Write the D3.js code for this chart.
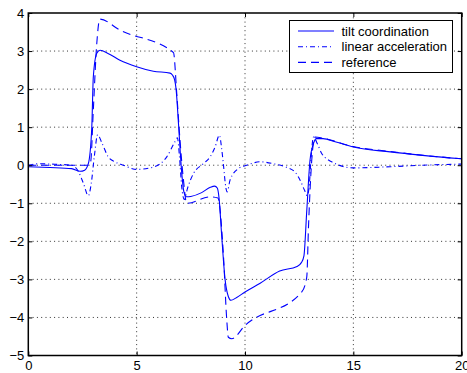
<!DOCTYPE html>
<html>
<head>
<meta charset="utf-8">
<script src="https://cdn.jsdelivr.net/npm/d3@7"></script>
<style>
  body { margin: 0; background: #fff; }
  svg { display: block; font-family: "Liberation Sans", Arial, sans-serif; }
</style>
</head>
<body>
<svg id="chart" width="467" height="373"></svg>
<script>
// tick values
const xTicks = [0, 5, 10, 15, 20];
const yTicks = [-5, -4, -3, -2, -1, 0, 1, 2, 3, 4];

// tilt coordination (solid)
const tiltT = [0, 1, 2, 2.39, 2.6, 2.77, 2.93, 3.0, 3.16, 3.31, 3.7, 4.23, 5.0, 5.77, 6.54, 6.65, 6.75, 6.82, 6.93, 7.08, 7.18, 7.3, 7.5, 8.0, 8.4, 8.6, 8.72, 8.8, 8.93, 9.08, 9.23, 9.35, 9.6, 10.0, 10.7, 11.6, 12.4, 12.6, 12.72, 12.85, 13.0, 13.16, 13.3, 13.6, 14.2, 15, 16.7, 18.2, 20];
const tiltY = [-0.04, -0.06, -0.09, -0.16, -0.13, 0.04, 1.0, 2.32, 2.94, 3.02, 2.93, 2.76, 2.59, 2.47, 2.42, 2.37, 2.25, 2.0, 1.1, -0.2, -0.7, -0.83, -0.82, -0.72, -0.58, -0.55, -0.6, -0.85, -1.9, -3.0, -3.45, -3.55, -3.48, -3.33, -3.1, -2.78, -2.66, -2.56, -2.38, -1.2, 0.13, 0.57, 0.7, 0.7, 0.61, 0.48, 0.35, 0.26, 0.17];

// linear acceleration (dash-dot)
const accT = [0, 0.5, 1.0, 2.0, 2.3, 2.54, 2.77, 2.9, 3.05, 3.2, 3.4, 3.69, 4.0, 4.39, 5.0, 5.77, 6.39, 6.77, 6.88, 6.98, 7.08, 7.2, 7.35, 7.62, 8.08, 8.39, 8.62, 8.82, 8.92, 9.0, 9.12, 9.18, 9.31, 9.69, 10.08, 10.7, 11.3, 11.85, 12.31, 12.55, 12.75, 12.87, 12.97, 13.05, 13.16, 13.35, 13.54, 14.0, 15, 16.7, 18.2, 20];
const accY = [0, 0.04, 0.03, 0.0, -0.15, -0.47, -0.8, -0.5, 0.25, 0.8, 0.58, 0.22, 0.09, 0.0, -0.11, -0.05, 0.22, 0.62, 0.72, 0.2, -0.57, -0.9, -0.6, -0.22, 0.04, 0.22, 0.48, 0.79, 0.45, 0.04, -0.6, -0.7, -0.39, -0.09, 0.0, 0.09, 0.04, -0.04, -0.18, -0.4, -0.66, -0.8, -0.5, 0.2, 0.74, 0.55, 0.31, 0.09, -0.07, -0.04, 0.0, 0.03];

// reference (dashed)
const refT = [0, 2.78, 2.88, 3.0, 3.16, 3.3, 4.23, 6.7, 6.85, 7.0, 7.16, 7.31, 8.4, 8.75, 9.0, 9.16, 9.23, 9.39, 10.0, 12.62, 12.85, 12.93, 13.08, 13.23, 13.6, 15, 16.7, 18.2, 20];
const refY = [0, 0, 0.1, 1.45, 3.2, 3.84, 3.55, 2.96, 1.89, 0.66, -0.39, -1.0, -0.83, -0.86, -2.32, -4.08, -4.52, -4.56, -4.21, -3.33, -2.94, -1.62, 0.13, 0.74, 0.71, 0.49, 0.36, 0.26, 0.17];

const legendNames = ["tilt coordination", "linear acceleration", "reference"];
const dashes = [null, "5,3,1,3", "8,5"];

const svg = d3.select("#chart");
const mLeft = 28.3, mTop = 13, mRight = 461.7, mBottom = 355.5;
const w = mRight - mLeft, h = mBottom - mTop;

const x = d3.scaleLinear().domain([0, 20]).range([0, w]);
const y = d3.scaleLinear().domain([-5, 4]).range([h, 0]);

const g = svg.append("g").attr("transform", `translate(${mLeft},${mTop})`);

// grid
g.append("g").selectAll("line")
  .data(xTicks.slice(1, -1)).join("line")
  .attr("x1", d => x(d)).attr("x2", d => x(d))
  .attr("y1", 0).attr("y2", h)
  .attr("stroke", "#333").attr("stroke-width", 1).attr("stroke-dasharray", "1,3.3");
g.append("g").selectAll("line")
  .data(yTicks.slice(1, -1)).join("line")
  .attr("y1", d => y(d)).attr("y2", d => y(d))
  .attr("x1", 0).attr("x2", w)
  .attr("stroke", "#333").attr("stroke-width", 1).attr("stroke-dasharray", "1,3.3");

// series
const series = [
  { t: tiltT, v: tiltY },
  { t: accT, v: accY },
  { t: refT, v: refY }
];
const line = d3.line()
  .x(d => x(d[0])).y(d => y(d[1]))
  .curve(d3.curveMonotoneX);

series.forEach((s, i) => {
  g.append("path")
    .datum(s.t.map((t, k) => [t, s.v[k]]))
    .attr("d", line)
    .attr("fill", "none")
    .attr("stroke", "#0000ff")
    .attr("stroke-width", 1.1)
    .attr("stroke-dasharray", dashes[i]);
});

// axes (ticks inward, MATLAB box)
function styleAxis(sel) {
  sel.select(".domain").remove();
  sel.selectAll(".tick line").attr("stroke", "#000");
  sel.selectAll("text").attr("font-size", 13).attr("fill", "#000")
    .attr("font-family", "Liberation Sans, Arial, sans-serif");
}
g.append("g").attr("transform", `translate(0,${h})`)
  .call(d3.axisBottom(x).tickValues(xTicks).tickSize(-4).tickPadding(5))
  .call(styleAxis);
g.append("g")
  .call(d3.axisLeft(y).tickValues(yTicks).tickSize(-4).tickPadding(4))
  .call(styleAxis);
g.append("g")
  .call(d3.axisTop(x).tickValues(xTicks).tickSize(-4).tickFormat(""))
  .call(styleAxis);
g.append("g").attr("transform", `translate(${w},0)`)
  .call(d3.axisRight(y).tickValues(yTicks).tickSize(-4).tickFormat(""))
  .call(styleAxis);

g.append("rect")
  .attr("width", w).attr("height", h)
  .attr("fill", "none").attr("stroke", "#000").attr("stroke-width", 1.5);

// legend
const lg = svg.append("g").attr("transform", "translate(289.5,20.5)");
lg.append("rect").attr("width", 163).attr("height", 52)
  .attr("fill", "#fff").attr("stroke", "#000").attr("stroke-width", 1);
legendNames.forEach((name, i) => {
  const yy = 10.5 + i * 15.7;
  lg.append("line")
    .attr("x1", 8.5).attr("x2", 44.5).attr("y1", yy).attr("y2", yy)
    .attr("stroke", "#0000ff").attr("stroke-width", 1.1)
    .attr("stroke-dasharray", dashes[i]);
  lg.append("text")
    .attr("x", 52).attr("y", yy).attr("dy", "0.35em")
    .attr("font-size", 13).text(name);
});
</script>
</body>
</html>
